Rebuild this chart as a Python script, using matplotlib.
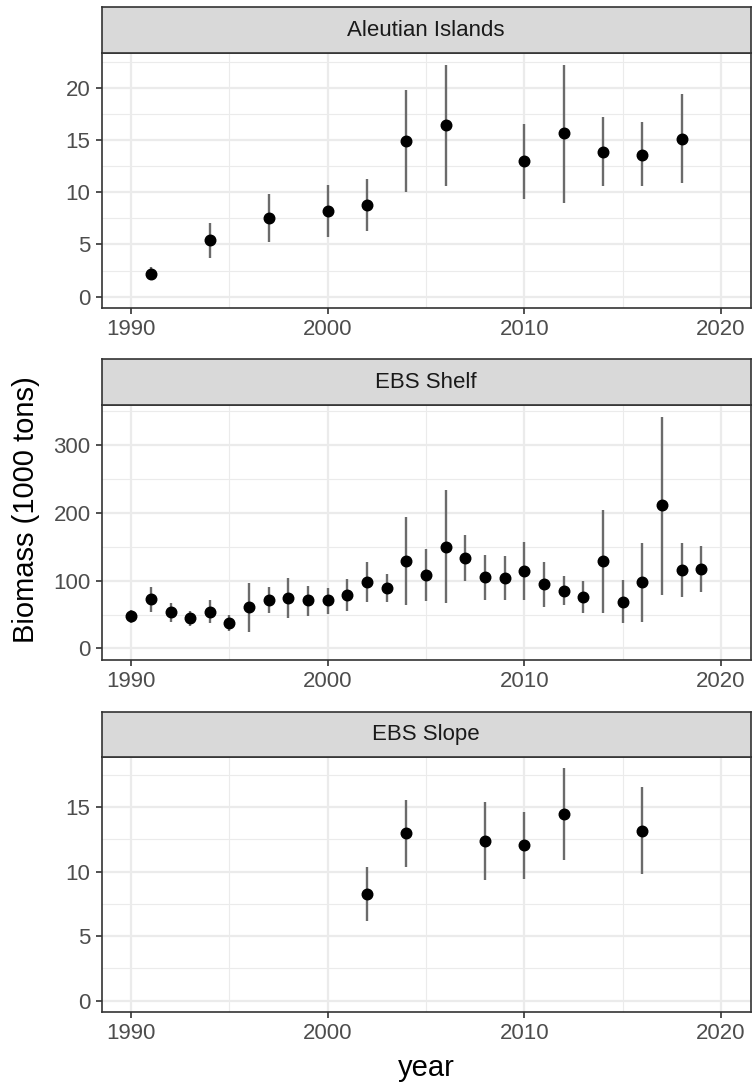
import matplotlib
matplotlib.use("Agg")
import matplotlib.pyplot as plt
import numpy as np

plt.rcParams['font.family'] = ['Liberation Sans', 'DejaVu Sans']

# ---------------- data ----------------
regions = ["Aleutian Islands", "EBS Shelf", "EBS Slope"]

ai_year = [1991, 1994, 1997, 2000, 2002, 2004, 2006, 2010, 2012, 2014, 2016, 2018]
ai_biomass = [2.2, 5.4, 7.5, 8.2, 8.8, 14.9, 16.4, 13.0, 15.7, 13.9, 13.6, 15.1]
ai_lo = [1.6, 3.75, 5.2, 5.7, 6.3, 10.0, 10.6, 9.4, 9.0, 10.6, 10.6, 10.9]
ai_hi = [2.8, 7.05, 9.8, 10.65, 11.3, 19.8, 22.2, 16.5, 22.2, 17.25, 16.7, 19.4]

shelf_year = list(range(1990, 2020))
shelf_biomass = [47.5, 73, 54.4, 44.6, 53.9, 37.7, 60.8, 71.6, 75, 71.6,
                 71.6, 78.9, 98.5, 89.7, 129.4, 108.8, 150, 133.3, 105.4, 103.9,
                 114.7, 94.6, 84.8, 76.5, 129.4, 69.1, 97.5, 211.3, 116.2, 117.2]
shelf_lo = [36.8, 53.9, 39.7, 32.4, 37.3, 26, 24, 52.5, 45.6, 48.5,
            51.5, 54.9, 68.1, 69.1, 64.2, 69.6, 66.7, 99.5, 72.1, 72.1,
            72.1, 60.8, 64.2, 52.5, 52.9, 36.8, 39.2, 78.9, 76.5, 83.3]
shelf_hi = [56.9, 91.2, 67.2, 55.4, 71.6, 49.5, 96.6, 90.2, 103.4, 92.2,
            89.2, 102.9, 127.9, 109.3, 193.6, 146.6, 233.8, 168.1, 137.7, 135.8,
            156.9, 127.5, 106.9, 100, 204.4, 101.5, 155.9, 342.2, 155.9, 150.5]

slope_year = [2002, 2004, 2008, 2010, 2012, 2016]
slope_biomass = [8.27, 12.97, 12.38, 12.09, 14.47, 13.18]
slope_lo = [6.18, 10.36, 9.38, 9.46, 10.93, 9.82]
slope_hi = [10.36, 15.58, 15.37, 14.65, 18.01, 16.56]

panels = [
    (ai_year, ai_biomass, ai_lo, ai_hi, [0, 5, 10, 15, 20], [2.5, 7.5, 12.5, 17.5, 22.5]),
    (shelf_year, shelf_biomass, shelf_lo, shelf_hi, [0, 100, 200, 300], [50, 150, 250, 350]),
    (slope_year, slope_biomass, slope_lo, slope_hi, [0, 5, 10, 15], [2.5, 7.5, 12.5, 17.5]),
]

x_major = [1990, 2000, 2010, 2020]
x_minor = [1995, 2005, 2015]

# ---------------- layout (pixels) ----------------
W, H = 753, 1089
fig = plt.figure(figsize=(W / 100, H / 100), dpi=100)

left_px, right_px = 101.7, 750.5
strips_px = [(7.3, 53.3), (359.3, 405.0), (711.7, 756.7)]
axes_px = [(53.3, 308.3), (405.0, 660.0), (756.7, 1012.3)]

border = '#333333'
grid_col = '#EBEBEB'
tick_col = '#4D4D4D'

for i, (yr, val, lo, hi, ymaj, ymin) in enumerate(panels):
    top, bot = axes_px[i]
    ax = fig.add_axes([left_px / W, (H - bot) / H, (right_px - left_px) / W, (bot - top) / H])
    ax.set_xlim(1988.5, 2021.5)
    ymax = max(hi)
    pad = 0.05 * ymax
    ax.set_ylim(0 - pad, ymax + pad)

    ax.set_xticks(x_major)
    ax.set_xticks(x_minor, minor=True)
    ax.set_yticks(ymaj)
    ax.set_yticks(ymin, minor=True)
    ax.grid(True, which='major', color=grid_col, linewidth=1.6, zorder=0)
    ax.grid(True, which='minor', color=grid_col, linewidth=0.8, zorder=0)
    ax.set_axisbelow(True)

    ax.tick_params(axis='both', which='major', length=4, width=1.2, color=border,
                   labelsize=16, labelcolor=tick_col, pad=4)
    ax.tick_params(axis='both', which='minor', length=0)
    for s in ax.spines.values():
        s.set_color(border)
        s.set_linewidth(1.2)

    yerr = np.array([np.array(val) - np.array(lo), np.array(hi) - np.array(val)])
    ax.errorbar(yr, val, yerr=yerr, fmt='none', ecolor='#6B6B6B', elinewidth=1.7,
                capsize=0, zorder=2)
    ax.plot(yr, val, 'o', color='black', markersize=7.6, zorder=3)

    # strip
    st, sb = strips_px[i]
    sax = fig.add_axes([left_px / W, (H - sb) / H, (right_px - left_px) / W, (sb - st) / H])
    sax.set_facecolor('#D9D9D9')
    sax.set_xticks([])
    sax.set_yticks([])
    for s in sax.spines.values():
        s.set_color(border)
        s.set_linewidth(1.2)
    sax.text(0.5, 0.5, regions[i], ha='center', va='center', fontsize=16,
             color='#1A1A1A', transform=sax.transAxes)

fig.text((left_px + right_px) / 2 / W, 1 - 1068 / H, 'year', ha='center', va='center',
         fontsize=21, color='black')
fig.text(26 / W, 1 - 510 / H, 'Biomass (1000 tons)', ha='center', va='center',
         rotation=90, fontsize=21, color='black')

fig.savefig('out.png', dpi=100, facecolor='white')
